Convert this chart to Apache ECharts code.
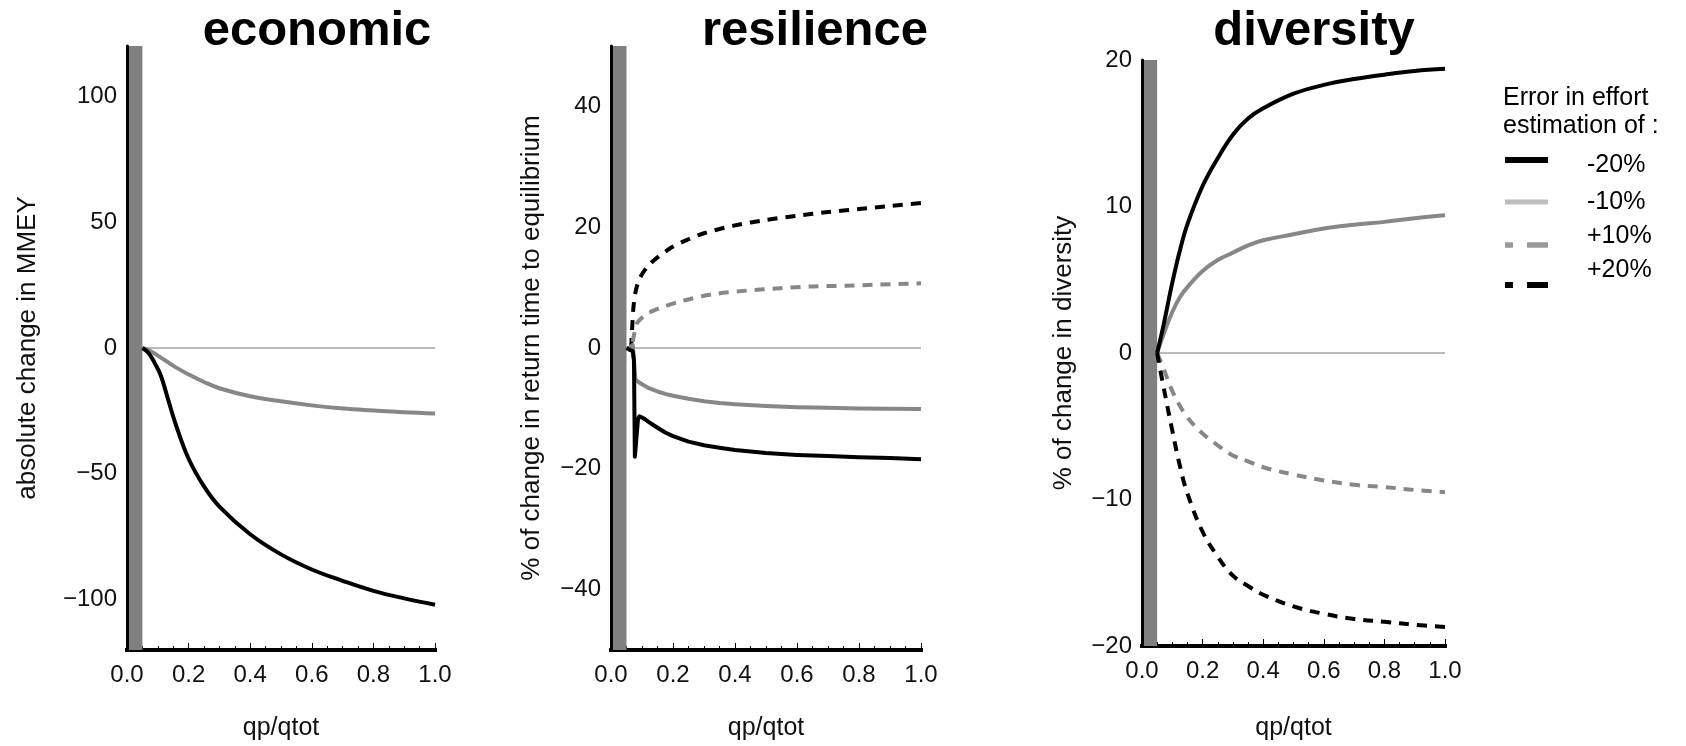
<!DOCTYPE html>
<html>
<head>
<meta charset="utf-8">
<script src="https://cdn.jsdelivr.net/npm/echarts@6/dist/echarts.min.js"></script>
<style>
html,body{margin:0;padding:0;background:#ffffff;}
#chart{width:1686px;height:746px;}
</style>
</head>
<body>
<div id="chart"></div>
<script>
// ---------------- DATA ----------------
const panelTitles = ['economic', 'resilience', 'diversity'];
const yAxisNames = ['absolute change in MMEY', '% of change in return time to equilibrium', '% of change in diversity'];
const xAxisName = 'qp/qtot';
const legendTitle = ['Error in effort', 'estimation of :'];
const legendLabels = ['-20%', '-10%', '+10%', '+20%'];
const blockedShare = [0, 0.05];   // grey band on the x axis

// economic panel
const econX   = [0.05, 0.07, 0.09, 0.11, 0.13, 0.16, 0.2, 0.25, 0.3, 0.4, 0.5, 0.6, 0.7, 0.8, 0.9, 1.0];
const econM20 = [0, -2, -6, -11, -19, -31, -44, -55, -63, -74, -82, -88, -92.5, -96.5, -99.5, -102];
const econM10 = [0, -0.8, -2.2, -3.8, -5.4, -7.8, -10.5, -13.5, -16, -19.2, -21.2, -22.8, -24, -24.8, -25.5, -26];

// resilience panel
const resM20X = [0.05, 0.06, 0.07, 0.074, 0.077, 0.082, 0.087, 0.092, 0.1, 0.11, 0.12, 0.135, 0.15, 0.175, 0.2, 0.25, 0.3, 0.35, 0.4, 0.5, 0.6, 0.7, 0.8, 0.9, 1.0];
const resM20Y = [0, -0.3, -0.5, -2, -18, -18, -11.8, -11.3, -11.5, -11.8, -12.2, -12.7, -13.2, -14.0, -14.6, -15.5, -16.1, -16.5, -16.9, -17.4, -17.7, -17.9, -18.1, -18.2, -18.4];
const resM10X = [0.05, 0.06, 0.07, 0.075, 0.079, 0.085, 0.1, 0.11, 0.12, 0.135, 0.15, 0.175, 0.2, 0.25, 0.3, 0.35, 0.4, 0.5, 0.6, 0.7, 0.8, 0.9, 1.0];
const resM10Y = [0, 0, 0.5, 0.5, -5.3, -5.6, -6.0, -6.3, -6.6, -6.9, -7.2, -7.6, -7.9, -8.4, -8.8, -9.1, -9.3, -9.6, -9.8, -9.9, -10.0, -10.05, -10.1];
const resP10X = [0.07, 0.082, 0.092, 0.114, 0.157, 0.222, 0.329, 0.437, 0.544, 0.652, 0.759, 0.867, 1.0];
const resP10Y = [1.0, 3.9, 4.6, 5.6, 6.6, 7.7, 8.9, 9.5, 9.9, 10.2, 10.3, 10.5, 10.7];
const resP20X = [0.065, 0.068, 0.072, 0.078, 0.087, 0.1, 0.12, 0.15, 0.2, 0.25, 0.3, 0.4, 0.5, 0.6, 0.7, 0.8, 0.9, 1.0];
const resP20Y = [0, 3, 6.5, 9, 10.8, 12.2, 13.6, 15, 16.8, 18, 19, 20.3, 21.2, 21.9, 22.5, 23, 23.5, 24];

// diversity panel
const divX   = [0.05, 0.07, 0.1, 0.125, 0.15, 0.2, 0.25, 0.3, 0.35, 0.4, 0.5, 0.6, 0.7, 0.8, 0.9, 1.0];
const divM20 = [0, 1.8, 4.8, 7.0, 8.8, 11.4, 13.3, 14.9, 16.0, 16.7, 17.7, 18.3, 18.7, 19.0, 19.25, 19.4];
const divM10 = [0, 1.2, 2.8, 3.8, 4.5, 5.6, 6.35, 6.85, 7.35, 7.7, 8.1, 8.5, 8.75, 8.95, 9.2, 9.4];
const divP10 = [0, -1.0, -2.6, -3.6, -4.4, -5.5, -6.3, -7.0, -7.4, -7.8, -8.3, -8.7, -9.0, -9.15, -9.35, -9.5];
const divP20 = [0, -2.2, -5.3, -7.7, -9.6, -12.2, -13.9, -15.2, -15.9, -16.5, -17.3, -17.8, -18.15, -18.35, -18.55, -18.7];

// y ranges and labelled steps
const yMin = [-120, -50, -20];
const yMax = [120, 50, 20];
const yLabelStep = [50, 20, 10];

// ---------------- STYLE / LAYOUT ----------------
const FONT = '"Liberation Sans", Arial, Helvetica, sans-serif';
const BLACK = '#000000';
const GREY = '#878787';
const DASH = [10, 8];
const grids = [
  {left: 127, top: 46, width: 308, height: 610},
  {left: 611, top: 46, width: 310, height: 611},
  {left: 1142, top: 60, width: 303, height: 600}
];
const yNameGap = [86, 66, 65];
const xNameGap = [66, 66, 70];
const titlePos = [[317, 31], [815, 31], [1314, 31]];

function zip(xs, ys) { return xs.map((x, i) => [x, ys[i]]); }
function minus(v) { return String(v).replace('-', '\u2212'); }

function curve(name, idx, xs, ys, color, dashed, smooth) {
  return {
    type: 'line', name: name, xAxisIndex: idx, yAxisIndex: idx,
    data: zip(xs, ys), symbol: 'none', smooth: smooth,
    lineStyle: {color: color, width: 4, type: dashed ? DASH : 'solid', cap: 'butt', join: 'round'},
    itemStyle: {color: color}, z: 3, silent: true
  };
}

const xAxes = grids.map((g, i) => ({
  type: 'value', gridIndex: i, min: 0, max: 1, interval: 0.2,
  axisLine: {show: true, onZero: false, lineStyle: {color: BLACK, width: 4, cap: 'square'}},
  axisTick: {show: true, inside: true, length: 7, lineStyle: {color: BLACK, width: 1}},
  minorTick: {show: true, splitNumber: 4, length: 4, lineStyle: {color: BLACK, width: 1}},
  splitLine: {show: false}, minorSplitLine: {show: false},
  axisLabel: {formatter: v => v.toFixed(1), fontSize: 24, color: '#111', margin: 13, fontFamily: FONT},
  name: xAxisName, nameLocation: 'middle', nameGap: xNameGap[i],
  nameTextStyle: {fontSize: 25, color: '#111', fontFamily: FONT}
}));

const yAxes = grids.map((g, i) => ({
  type: 'value', gridIndex: i, min: yMin[i], max: yMax[i], interval: 10, z: 10,
  axisLine: {show: true, onZero: false, lineStyle: {color: BLACK, width: 3}},
  axisTick: {show: false}, splitLine: {show: false},
  axisLabel: {
    formatter: v => (v % yLabelStep[i] === 0 ? minus(v) : ''),
    fontSize: 24, color: '#111', margin: 10, fontFamily: FONT
  },
  name: yAxisNames[i], nameLocation: 'middle', nameRotate: 90, nameGap: yNameGap[i],
  nameTextStyle: {fontSize: 26, color: '#111', fontFamily: FONT}
}));

function baseLine(idx) {
  return {
    type: 'line', xAxisIndex: idx, yAxisIndex: idx, silent: true, z: 2,
    data: [[blockedShare[1], 0], [1, 0]], symbol: 'none',
    lineStyle: {color: '#777', width: 1},
    markArea: {
      silent: true, itemStyle: {color: '#808080'},
      data: [[{coord: [blockedShare[0], yMin[idx]]}, {coord: [blockedShare[1], yMax[idx]]}]]
    }
  };
}

const series = [
  baseLine(0), baseLine(1), baseLine(2),
  curve('-10%', 0, econX, econM10, GREY, false, 0.4),
  curve('-20%', 0, econX, econM20, BLACK, false, 0.4),
  curve('+20%', 1, resP20X, resP20Y, BLACK, true, 0.3),
  curve('+10%', 1, resP10X, resP10Y, GREY, true, 0.3),
  curve('-10%', 1, resM10X, resM10Y, GREY, false, false),
  curve('-20%', 1, resM20X, resM20Y, BLACK, false, false),
  curve('-10%', 2, divX, divM10, GREY, false, 0.4),
  curve('+10%', 2, divX, divP10, GREY, true, 0.4),
  curve('-20%', 2, divX, divM20, BLACK, false, 0.4),
  curve('+20%', 2, divX, divP20, BLACK, true, 0.4)
];

// ---------------- GRAPHIC: titles + legend ----------------
const graphic = [];
panelTitles.forEach((t, i) => {
  graphic.push({
    type: 'text', x: titlePos[i][0], y: titlePos[i][1],
    style: {text: t, font: 'bold 49px ' + FONT, fill: BLACK, textAlign: 'center', textVerticalAlign: 'middle'}
  });
});
const legX = 1505, legTextX = 1587;
const legTitleY = [98, 126];
legendTitle.forEach((t, i) => {
  graphic.push({
    type: 'text', x: legX - 2, y: legTitleY[i],
    style: {text: t, font: '25px ' + FONT, fill: BLACK, textAlign: 'left', textVerticalAlign: 'middle'}
  });
});
const legLineY = [160, 202, 245, 285];
const legLabelY = [165, 202, 236, 270];
const legColors = [BLACK, '#bdbdbd', '#999999', BLACK];
const legThick = [6, 5, 5.5, 6];
const legDashed = [false, false, true, true];
legendLabels.forEach((t, i) => {
  const h = legThick[i];
  if (legDashed[i]) {
    graphic.push({type: 'rect', shape: {x: legX, y: legLineY[i] - h / 2, width: 8, height: h}, style: {fill: legColors[i]}});
    graphic.push({type: 'rect', shape: {x: legX + 22, y: legLineY[i] - h / 2, width: 21, height: h}, style: {fill: legColors[i]}});
  } else {
    graphic.push({type: 'rect', shape: {x: legX, y: legLineY[i] - h / 2, width: 43, height: h}, style: {fill: legColors[i]}});
  }
  graphic.push({
    type: 'text', x: legTextX, y: legLabelY[i],
    style: {text: t, font: '25px ' + FONT, fill: BLACK, textAlign: 'left', textVerticalAlign: 'middle'}
  });
});

const chart = echarts.init(document.getElementById('chart'));
chart.setOption({
  animation: false,
  backgroundColor: '#ffffff',
  grid: grids.map(g => Object.assign({containLabel: false}, g)),
  xAxis: xAxes,
  yAxis: yAxes,
  series: series,
  graphic: graphic
});
</script>
</body>
</html>
